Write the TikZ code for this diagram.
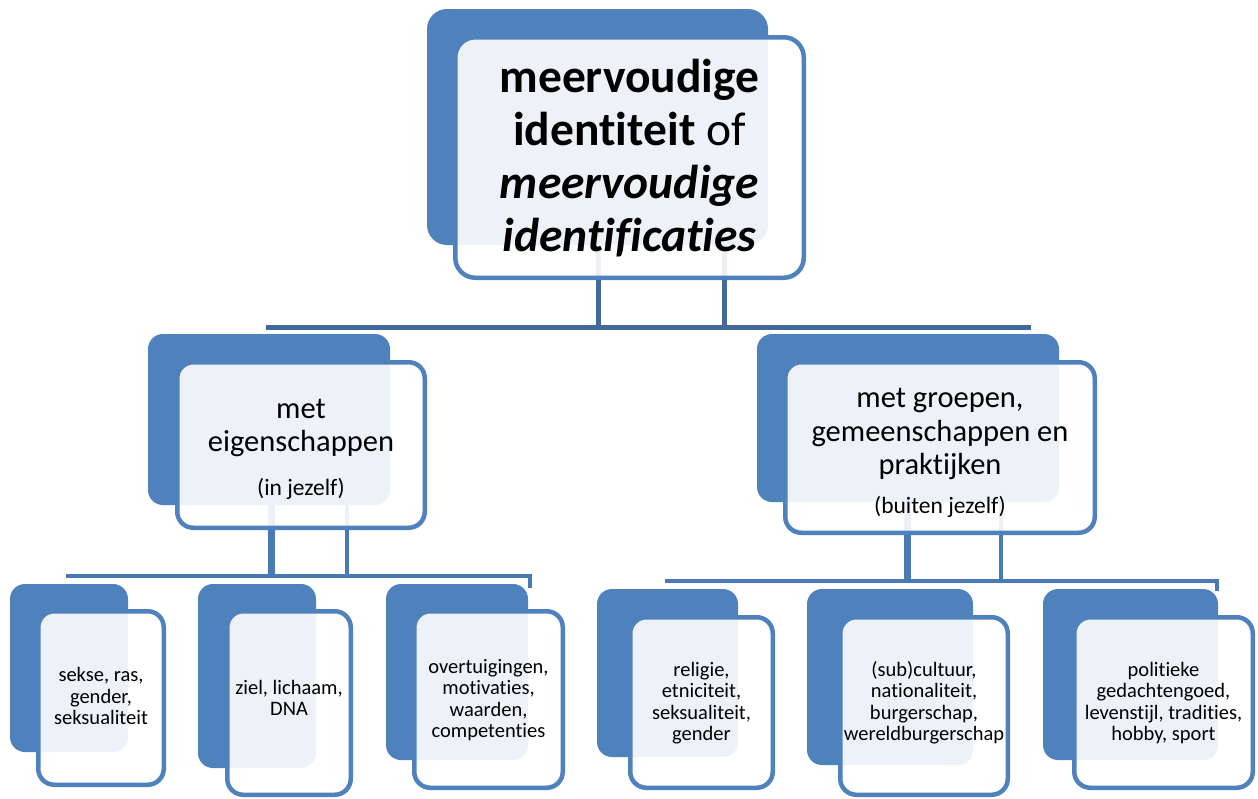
\documentclass[tikz,border=0pt]{standalone}
\usepackage{fontspec}
\setmainfont[Ligatures=NoCommon]{Carlito}
\pgfdeclarelayer{bg}
\pgfsetlayers{bg,main}
\definecolor{sblue}{HTML}{4F81BD}
\definecolor{lineA}{HTML}{41699C}
\definecolor{lineB}{HTML}{4A79B3}
\newcommand{\backbox}[6][15pt]{\node[backbox, rounded corners=#1, minimum width={#5-#3}, minimum height={#6-#4}] (#2) at ({(#3+#5)/2},{(#4+#6)/2}) {};}
\newcommand{\frontbox}[6][16pt]{\node[frontbox, rounded corners=#1, minimum width={#5-#3-4.5}, minimum height={#6-#4-4.5}] (#2) at ({(#3+#5)/2},{(#4+#6)/2}) {};}
\begin{document}
\begin{tikzpicture}[x=1pt,y=-1pt,
 backbox/.style={fill=sblue, draw=none, inner sep=0pt},
 frontbox/.style={fill=white, fill opacity=0.9, draw=sblue, line width=4.5pt, inner sep=0pt},
 lbl/.style={align=center, inner sep=0pt, text=black},
 topfont/.style={font=\fontsize{47.5}{53}\selectfont},
 midfont/.style={font=\fontsize{30.5}{33.5}\selectfont},
 parfont/.style={font=\fontsize{23.5}{26}\selectfont},
 smallfont/.style={font=\fontsize{20.5}{21.5}\selectfont},
 busA/.style={draw=lineA, line width=5pt},
 busB/.style={draw=lineB, line width=4.5pt},
]
\useasboundingbox (0,0) rectangle (1258,798);

% top
\backbox[20pt]{b0}{427}{9}{768}{245}
\frontbox[20pt]{f0}{453}{35}{806}{280}
% level 2
\backbox{b1}{148}{334}{390}{505}
\frontbox{f1}{175}{360}{427}{530}
\backbox{b2}{757}{334}{1059}{502}
\frontbox{f2}{783}{360}{1097}{535}
% level 3
\backbox{b11}{10}{584}{128}{752}
\frontbox{f11}{36}{609}{166}{787}
\backbox{b12}{198}{584}{316}{768}
\frontbox{f12}{225}{609}{353}{797}
\backbox{b13}{386}{584}{528}{760}
\frontbox{f13}{412}{609}{565}{790}
\backbox{b21}{597}{589}{738}{757}
\frontbox{f21}{628}{615}{775}{790}
\backbox{b22}{807}{589}{973}{765}
\frontbox{f22}{838}{615}{1010}{797}
\backbox{b23}{1043}{589}{1218}{760}
\frontbox{f23}{1072}{615}{1255}{790}

% texts
\node[lbl, topfont] (t0) at (629.5,158) {\textbf{meervoudige}\\\textbf{identiteit} of\\\textbf{\textit{meervoudige}}\\\textbf{\textit{identificaties}}};
\node[lbl, midfont] (t1) at (301,428) {met\\eigenschappen};
\node[lbl, parfont] (t1b) at (301,489) {(in jezelf)};
\node[lbl, midfont] (t2) at (940,434) {met groepen,\\gemeenschappen en\\praktijken};
\node[lbl, parfont] (t2b) at (940,507) {(buiten jezelf)};
\node[lbl, smallfont] (t11) at (101,696) {sekse, ras,\\gender,\\seksualiteit};
\node[lbl, smallfont] (t12) at (289,698) {ziel, lichaam,\\DNA};
\node[lbl, smallfont] (t13) at (488.5,700) {overtuigingen,\\motivaties,\\waarden,\\competenties};
\node[lbl, smallfont] (t21) at (701.5,703) {religie,\\etniciteit,\\seksualiteit,\\gender};
\node[lbl, smallfont] (t22) at (924,703) {(sub)cultuur,\\nationaliteit,\\burgerschap,\\wereldburgerschap};
\node[lbl, smallfont] (t23) at (1163.5,703) {politieke\\gedachtengoed,\\levenstijl, tradities,\\hobby, sport};

% connectors
\coordinate (j0a) at (598,327);
\coordinate (j0b) at (724,327);
\coordinate (bus0L) at (266,327);
\coordinate (bus0R) at (1031,327);
\coordinate (j1a) at (271,576);
\coordinate (j1b) at (347,576);
\coordinate (bus1L) at (66,576);
\coordinate (bus1R) at (530,576);
\coordinate (hook1) at (530,588);
\coordinate (j2a) at (907,581);
\coordinate (j2b) at (1001,581);
\coordinate (bus2L) at (665,581);
\coordinate (bus2R) at (1217,581);
\coordinate (hook2) at (1217,591);
\begin{pgfonlayer}{bg}
\fill[white] (0,0) rectangle (1258,798);
\draw[busA] (f0.center -| j0a) -- (j0a);
\draw[busA] (f0.center -| j0b) -- (j0b);
\draw[busA] (bus0L) -- (bus0R);
\draw[busB, line width=7pt] (f1.center -| j1a) -- (j1a);
\draw[busB] (f1.center -| j1b) -- (j1b);
\draw[busB] (bus1L) -- (bus1R) -- (hook1);
\draw[busB, line width=7pt] (f2.center -| j2a) -- (j2a);
\draw[busB] (f2.center -| j2b) -- (j2b);
\draw[busB] (bus2L) -- (bus2R) -- (hook2);
\end{pgfonlayer}
\end{tikzpicture}
\end{document}
